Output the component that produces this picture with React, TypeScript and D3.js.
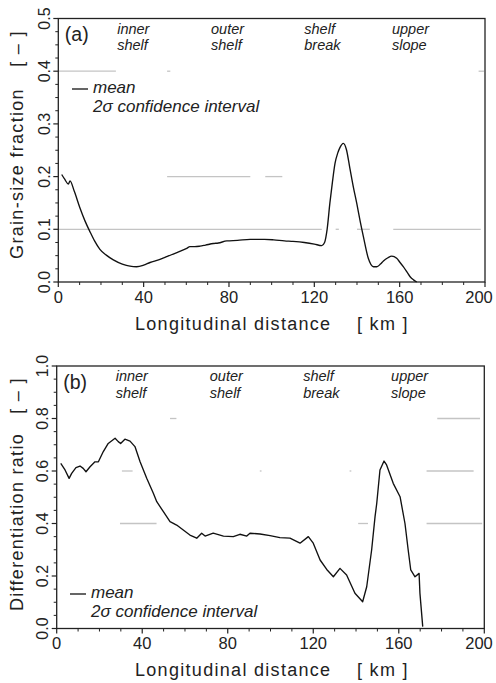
import React from "react";
import * as d3 from "d3";

// ---------- data ----------
const distA = [1.6, 3.0, 4.7, 5.5, 7.5, 10.2, 12.5, 14.9, 17, 19.5, 22.5, 25.8, 30, 33.6, 36.7, 40, 43, 47, 50.8, 55, 60.2, 61.7, 64, 66.4, 69, 72.7, 75, 79, 84, 89.9, 96.6, 101, 106, 110, 115.3, 120, 123.5, 124.8, 126, 127.3, 128.5, 129.7, 131, 132, 133.6, 135, 136.7, 138.3, 139.9, 141.5, 143, 145.3, 147.7, 149.3, 151, 152.4, 154.5, 156.3, 158.6, 160, 161.7, 163.4, 164.9, 166.5, 168];
const fracA = [0.204, 0.195, 0.186, 0.192, 0.172, 0.14, 0.116, 0.095, 0.078, 0.062, 0.051, 0.042, 0.034, 0.03, 0.029, 0.032, 0.037, 0.042, 0.048, 0.055, 0.064, 0.067, 0.067, 0.068, 0.07, 0.073, 0.074, 0.078, 0.079, 0.081, 0.081, 0.08, 0.078, 0.077, 0.075, 0.072, 0.069, 0.075, 0.1, 0.15, 0.19, 0.225, 0.245, 0.255, 0.263, 0.252, 0.215, 0.18, 0.149, 0.115, 0.086, 0.045, 0.029, 0.029, 0.034, 0.04, 0.046, 0.049, 0.045, 0.038, 0.029, 0.019, 0.01, 0.004, 0.0];

const distB = [1.9, 3.9, 5.8, 7.0, 9.0, 10.9, 12.4, 13.7, 15.6, 17.9, 19.5, 21.8, 24.1, 27.3, 28.8, 29.9, 31.9, 34.3, 36.6, 39, 42.1, 45.2, 46.8, 49.9, 53, 56.1, 59.2, 62.3, 65.5, 67.8, 69.4, 73.2, 78, 82.6, 85.7, 88.9, 90.4, 95.1, 99.8, 104.4, 109.1, 113.8, 117.7, 120, 123.2, 126.3, 129.4, 132.5, 135.6, 139.5, 143.1, 145, 147.3, 148.9, 149.7, 151.2, 153.1, 154.3, 157.4, 160.6, 162.9, 164.4, 165.6, 167.6, 169.5, 169.9, 171.2];
const ratioB = [0.629, 0.604, 0.572, 0.591, 0.613, 0.619, 0.61, 0.597, 0.616, 0.635, 0.635, 0.674, 0.705, 0.725, 0.712, 0.705, 0.721, 0.714, 0.693, 0.635, 0.572, 0.515, 0.483, 0.445, 0.407, 0.394, 0.375, 0.356, 0.344, 0.363, 0.352, 0.363, 0.352, 0.35, 0.359, 0.352, 0.363, 0.36, 0.354, 0.346, 0.344, 0.325, 0.35, 0.325, 0.261, 0.225, 0.197, 0.229, 0.204, 0.134, 0.102, 0.159, 0.299, 0.426, 0.477, 0.604, 0.638, 0.623, 0.553, 0.502, 0.4, 0.299, 0.223, 0.197, 0.21, 0.134, 0.007];

const xTicks = [0, 40, 80, 120, 160, 200];
const yTicksA = [0, 0.1, 0.2, 0.3, 0.4, 0.5];
const yTicksB = [0, 0.2, 0.4, 0.6, 0.8, 1.0];

const zoneLine1 = ["inner", "outer", "shelf", "upper"];
const zoneLine2 = ["shelf", "shelf", "break", "slope"];
const zoneKm = [27.6, 71.6, 115.3, 156.4];

// faint 2σ confidence-interval traces (value, from km, to km)
const ciValA = [0.4, 0.4, 0.2, 0.2, 0.1, 0.1, 0.1, 0.1, 0.4];
const ciFromA = [0, 51, 51, 97, 0, 130, 140, 157, 197];
const ciToA = [27, 52.5, 90, 105, 123.5, 131.5, 146, 198, 199.5];
const ciValB = [0.8, 0.8, 0.6, 0.6, 0.6, 0.6, 0.4, 0.4, 0.4];
const ciFromB = [53, 178, 30.5, 95, 137, 173, 29.6, 141, 173];
const ciToB = [56, 198, 35.5, 95.8, 137.8, 195, 46.7, 145.6, 199];

const FONT = "'Liberation Sans', Arial, Helvetica, sans-serif";

type PanelProps = {
  left: number; right: number; top: number; bottom: number;
  yMax: number; yTicks: number[]; minorStep: number;
  xs: number[]; ys: number[]; smooth: boolean;
  tag: string; yTitle: string; yTitleMid: number; bracketMid: number;
  legendY: number; legendX: number;
  ciVal: number[]; ciFrom: number[]; ciTo: number[];
};

function Panel(p: PanelProps) {
  const x = d3.scaleLinear().domain([0, 200]).range([p.left, p.right]);
  const y = d3.scaleLinear().domain([0, p.yMax]).range([p.bottom, p.top]);
  const line = d3
    .line<number>()
    .x((_, i) => x(p.xs[i]))
    .y((v) => y(v))
    .curve(p.smooth ? d3.curveMonotoneX : d3.curveLinear);
  const minorY = d3.range(0, p.yMax + 1e-9, p.minorStep).filter(
    (v) => !p.yTicks.some((t) => Math.abs(t - v) < 1e-9)
  );
  const minorX = d3.range(0, 201, 10).filter((v) => v % 40 !== 0);
  const fmt = d3.format(".1f");
  return (
    <g>
      {/* CI traces */}
      {p.ciVal.map((v, i) => (
        <line key={"ci" + i} x1={x(p.ciFrom[i])} x2={x(p.ciTo[i])} y1={y(v)} y2={y(v)}
          stroke="#c4c4c4" strokeWidth={1.3} />
      ))}
      {/* frame */}
      <rect x={p.left} y={p.top} width={p.right - p.left} height={p.bottom - p.top}
        fill="none" stroke="#222" strokeWidth={1.3} />
      {/* y ticks */}
      {p.yTicks.map((t) => (
        <g key={"yt" + t}>
          <line x1={p.left - 5} x2={p.left} y1={y(t)} y2={y(t)} stroke="#222" strokeWidth={1.2} />
          <text transform={`translate(${p.left - 8.5},${y(t)}) rotate(-90)`} textAnchor="middle"
            fontSize={16} fontFamily={FONT} fill="#222">{fmt(t)}</text>
        </g>
      ))}
      {minorY.map((t) => (
        <line key={"ym" + t} x1={p.left - 3} x2={p.left} y1={y(t)} y2={y(t)} stroke="#222" strokeWidth={1} />
      ))}
      {/* x ticks */}
      {xTicks.map((t) => (
        <g key={"xt" + t}>
          <line x1={x(t)} x2={x(t)} y1={p.bottom} y2={p.bottom + 5} stroke="#222" strokeWidth={1.2} />
          <text x={Math.min(x(t), 479)} y={p.bottom + 20.5} textAnchor="middle" fontSize={16.5} fontFamily={FONT} fill="#222">{t}</text>
        </g>
      ))}
      {minorX.map((t) => (
        <line key={"xm" + t} x1={x(t)} x2={x(t)} y1={p.bottom} y2={p.bottom + 3} stroke="#222" strokeWidth={1} />
      ))}
      {/* curve */}
      <path d={line(p.ys) || ""} fill="none" stroke="#111" strokeWidth={1.35} strokeLinejoin="round" />
      {/* zone labels */}
      {zoneKm.map((k, i) => (
        <g key={"z" + i}>
          <text x={x(k)} y={p.top + 15} fontSize={14.5} fontStyle="italic" fontFamily={FONT} fill="#222">{zoneLine1[i]}</text>
          <text x={x(k)} y={p.top + 31.5} fontSize={14.5} fontStyle="italic" fontFamily={FONT} fill="#222">{zoneLine2[i]}</text>
        </g>
      ))}
      {/* tag */}
      <text x={p.left + 6.5} y={p.top + 22.5} fontSize={19.5} fontFamily={FONT} fill="#222">{p.tag}</text>
      {/* legend */}
      <line x1={p.legendX} x2={p.legendX + 16} y1={p.legendY - 4} y2={p.legendY - 4} stroke="#111" strokeWidth={1.3} />
      <text x={p.legendX + 21} y={p.legendY} fontSize={17} fontStyle="italic" fontFamily={FONT} fill="#222">mean</text>
      <text x={p.legendX + 21} y={p.legendY + 18.5} fontSize={17} fontStyle="italic" fontFamily={FONT} fill="#222">2σ confidence interval</text>
      {/* axis titles */}
      <text x={135} y={p.bottom + 47.5} fontSize={18} letterSpacing={1.3} fontFamily={FONT} fill="#222">Longitudinal distance</text>
      <text x={357} y={p.bottom + 47.5} fontSize={18} letterSpacing={1.3} fontFamily={FONT} fill="#222">[ km ]</text>
      <text transform={`translate(23,${p.yTitleMid}) rotate(-90)`} textAnchor="middle" fontSize={18}
        letterSpacing={1.3} fontFamily={FONT} fill="#222">{p.yTitle}</text>
      <text transform={`translate(23,${p.bracketMid}) rotate(-90)`} textAnchor="middle" fontSize={18}
        letterSpacing={1.3} fontFamily={FONT} fill="#222">[ – ]</text>
    </g>
  );
}

export default function App() {
  return (
    <svg width={496} height={683} viewBox="0 0 496 683"
      style={{ position: "absolute", left: 0, top: 0, background: "#fff" }}>
      <rect x={0} y={0} width={496} height={683} fill="#fff" />
      <Panel left={58.3} right={485} top={18.5} bottom={282} yMax={0.5} yTicks={yTicksA} minorStep={0.025}
        xs={distA} ys={fracA} smooth={true} tag="(a)" yTitle="Grain-size fraction"
        yTitleMid={173.5} bracketMid={48.5} legendX={72} legendY={93}
        ciVal={ciValA} ciFrom={ciFromA} ciTo={ciToA} />
      <Panel left={56.7} right={484.3} top={366} bottom={628.5} yMax={1.0} yTicks={yTicksB} minorStep={0.05}
        xs={distB} ys={ratioB} smooth={false} tag="(b)" yTitle="Differentiation ratio"
        yTitleMid={522} bracketMid={395.5} legendX={70} legendY={598}
        ciVal={ciValB} ciFrom={ciFromB} ciTo={ciToB} />
    </svg>
  );
}
